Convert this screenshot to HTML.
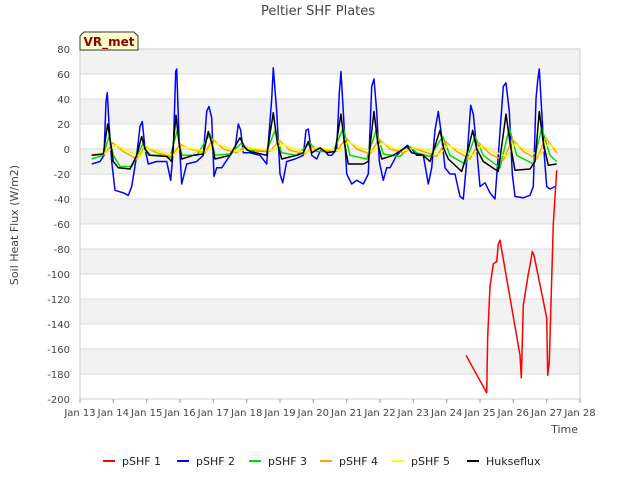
<!DOCTYPE html>
<html><head><meta charset="utf-8"><style>
body{margin:0;background:#fff;font-family:"Liberation Sans","DejaVu Sans",sans-serif;}
svg text{font-family:"DejaVu Sans","Liberation Sans",sans-serif;}
</style></head><body>
<svg id="chart" width="640" height="480" xmlns="http://www.w3.org/2000/svg">
<rect width="640" height="480" fill="#fff"/>
<g id="bands"></g><g id="grid"></g><g id="series"></g><g id="axes"></g>
<text x="318" y="15" text-anchor="middle" font-size="13" fill="#444">Peltier SHF Plates</text>
<text transform="translate(18,225) rotate(-90)" text-anchor="middle" font-size="11" fill="#444">Soil Heat Flux (W/m2)</text>
<text x="578" y="433" text-anchor="end" font-size="11" fill="#444">Time</text>
<g>
<path d="M80,36 L84,32 L134,32 L138,36 L138,50 L80,50 Z" fill="#ffffcc" stroke="#333" stroke-width="1"/>
<text x="109" y="46" text-anchor="middle" font-size="12" font-weight="bold" fill="#8b0000">VR_met</text>
</g>
<g id="legend"></g>
</svg>
<script>
const yTicks=[80,60,40,20,0,-20,-40,-60,-80,-100,-120,-140,-160,-180,-200];
const xTickLabels=["Jan 13","Jan 14","Jan 15","Jan 16","Jan 17","Jan 18","Jan 19","Jan 20","Jan 21","Jan 22","Jan 23","Jan 24","Jan 25","Jan 26","Jan 27","Jan 28"];
const xDays=[13,14,15,16,17,18,19,20,21,22,23,24,25,26,27,28];
const seriesNames=["pSHF 1","pSHF 2","pSHF 3","pSHF 4","pSHF 5","Hukseflux"];
const seriesColors=["#ff0000","#0000ff","#00dd00","#ffa500","#ffff00","#000000"];
const pshf1=[[24.58,-165],[25.2,-195],[25.23,-150],[25.3,-110],[25.4,-92],[25.5,-90],[25.55,-76],[25.6,-73],[26.2,-165],[26.24,-183],[26.3,-125],[26.45,-100],[26.52,-90],[26.57,-82],[26.62,-85],[27.0,-135],[27.03,-181],[27.08,-170],[27.2,-60],[27.3,-17]];
const pshf2=[[13.35,-12],[13.6,-10],[13.72,-5],[13.78,38],[13.82,45],[13.87,20],[13.95,-10],[14.05,-33],[14.3,-35],[14.45,-37],[14.55,-30],[14.7,-5],[14.8,18],[14.87,22],[14.95,0],[15.05,-12],[15.3,-10],[15.6,-10],[15.72,-25],[15.8,0],[15.87,62],[15.9,64],[15.97,10],[16.05,-28],[16.2,-12],[16.5,-10],[16.7,-5],[16.8,30],[16.87,34],[16.95,25],[17.02,-22],[17.1,-15],[17.25,-15],[17.5,-5],[17.65,0],[17.75,20],[17.82,15],[17.9,-3],[18.1,-3],[18.4,-5],[18.6,-12],[18.75,40],[18.8,65],[18.9,30],[19.0,-20],[19.08,-27],[19.2,-10],[19.45,-8],[19.7,-5],[19.78,15],[19.85,16],[19.95,-5],[20.1,-8],[20.2,-2],[20.3,0],[20.45,-5],[20.55,-5],[20.7,0],[20.78,45],[20.83,62],[20.9,30],[21.0,-20],[21.15,-28],[21.3,-25],[21.5,-28],[21.65,-20],[21.75,50],[21.82,56],[21.9,30],[21.98,-10],[22.1,-25],[22.2,-15],[22.3,-15],[22.5,-5],[22.7,0],[22.82,3],[22.95,0],[23.1,-5],[23.3,-5],[23.45,-28],[23.55,-15],[23.65,15],[23.75,30],[23.85,10],[23.95,-15],[24.1,-20],[24.25,-20],[24.4,-38],[24.5,-40],[24.6,-10],[24.72,35],[24.8,28],[24.9,0],[25.0,-30],[25.15,-27],[25.3,-35],[25.45,-40],[25.55,-5],[25.7,50],[25.78,53],[25.88,30],[25.97,-20],[26.05,-38],[26.3,-39],[26.5,-37],[26.6,-30],[26.68,40],[26.73,55],[26.78,64],[26.85,30],[26.93,-5],[27.0,-30],[27.1,-32],[27.25,-30]];
const pshf3=[[13.35,-8],[13.7,-5],[13.88,11],[14.0,-5],[14.2,-14],[14.55,-14],[14.9,5],[15.05,-5],[15.5,-5],[15.7,-7],[15.92,15],[16.05,-5],[16.5,-5],[16.9,12],[17.05,-5],[17.5,-4],[17.85,5],[18.0,-1],[18.6,-2],[18.85,15],[19.05,-3],[19.5,-5],[19.9,5],[20.1,-2],[20.6,-2],[20.9,17],[21.1,-5],[21.6,-8],[21.88,15],[22.1,-4],[22.6,-6],[22.9,2],[23.1,-3],[23.5,-6],[23.88,10],[24.1,-5],[24.55,-12],[24.85,10],[25.1,-5],[25.6,-15],[25.88,17],[26.1,-5],[26.6,-12],[26.85,17],[27.1,-5],[27.3,-10]];
const pshf4=[[13.35,-5],[13.75,-4],[13.98,5],[14.3,-2],[14.7,-8],[14.95,2],[15.3,-3],[15.75,-6],[16.0,4],[16.3,0],[16.75,-3],[16.98,8],[17.3,0],[17.7,-3],[17.95,2],[18.3,-1],[18.7,-2],[18.98,7],[19.3,-1],[19.75,-4],[20.0,2],[20.3,-1],[20.7,-2],[20.98,9],[21.3,0],[21.7,-4],[21.97,8],[22.3,0],[22.7,-3],[22.98,1],[23.3,-2],[23.7,-6],[23.97,6],[24.3,-2],[24.7,-8],[24.97,5],[25.3,-4],[25.7,-9],[25.97,8],[26.3,-2],[26.7,-8],[26.97,9],[27.3,-3]];
const pshf5=[[13.35,-4],[13.8,-3],[14.05,3],[14.4,-1],[14.8,-6],[15.05,1],[15.4,-2],[15.8,-5],[16.05,2],[16.4,0],[16.8,-2],[17.05,5],[17.4,1],[17.8,-2],[18.05,1],[18.4,0],[18.8,-1],[19.05,4],[19.4,0],[19.8,-3],[20.05,1],[20.4,0],[20.8,-1],[21.05,6],[21.4,1],[21.8,-2],[22.05,5],[22.4,1],[22.8,-1],[23.05,1],[23.4,-1],[23.8,-4],[24.05,3],[24.4,-1],[24.8,-5],[25.05,3],[25.4,-2],[25.8,-6],[26.05,4],[26.4,-1],[26.8,-5],[27.05,4],[27.3,0]];
const huks=[[13.35,-5],[13.7,-4],[13.8,15],[13.83,20],[13.9,8],[14.0,-10],[14.15,-15],[14.5,-16],[14.7,-5],[14.85,10],[14.95,0],[15.1,-5],[15.6,-6],[15.75,-10],[15.88,27],[15.97,5],[16.05,-8],[16.4,-5],[16.7,-4],[16.85,14],[16.95,5],[17.05,-8],[17.5,-5],[17.8,9],[17.95,1],[18.1,-2],[18.6,-5],[18.8,29],[18.92,5],[19.05,-8],[19.5,-5],[19.7,-3],[19.85,6],[19.95,-3],[20.2,1],[20.4,-3],[20.65,-2],[20.83,28],[20.93,5],[21.05,-12],[21.5,-12],[21.65,-10],[21.82,30],[21.93,5],[22.05,-8],[22.4,-5],[22.7,0],[22.82,2],[22.95,-3],[23.3,-5],[23.5,-10],[23.8,15],[23.92,0],[24.05,-8],[24.45,-18],[24.65,0],[24.78,15],[24.9,0],[25.1,-10],[25.55,-18],[25.78,28],[25.9,5],[26.05,-17],[26.5,-16],[26.65,-10],[26.78,30],[26.9,5],[27.05,-13],[27.3,-12]];
const allSeries=[pshf1,pshf2,pshf3,pshf4,pshf5,huks];
const drawOrder=[1,2,3,4,5,0];
const X0=80,X1=580,Y0=49,Y1=399;
const xS=d=>X0+(d-13)/15*(X1-X0);
const yS=v=>Y0+(80-v)/280*(Y1-Y0);
const NS="http://www.w3.org/2000/svg";
function mk(tag,attrs,parent){const e=document.createElementNS(NS,tag);for(const k in attrs)e.setAttribute(k,attrs[k]);parent.appendChild(e);return e;}
const bands=document.getElementById('bands'),grid=document.getElementById('grid'),axes=document.getElementById('axes'),ser=document.getElementById('series'),leg=document.getElementById('legend');
for(let i=0;i<yTicks.length-1;i++){
  if(i%2===0){const r=mk('rect',{x:X0,y:yS(yTicks[i]),width:X1-X0,height:yS(yTicks[i+1])-yS(yTicks[i]),fill:'#f2f2f2'},bands);
  
  }
}
yTicks.forEach(v=>{
  const l=mk('line',{x1:X0,x2:X1,y1:yS(v),y2:yS(v),stroke:'#dcdcdc','stroke-width':1},grid);
  
  
  const t=mk('text',{x:X0-10,y:yS(v)+4,'text-anchor':'end','font-size':10,fill:'#444'},axes);
  t.textContent=v;
  
  
});
const fr=mk('rect',{x:X0,y:Y0,width:X1-X0,height:Y1-Y0,fill:'none',stroke:'#ccc'},axes);


xDays.forEach((d,i)=>{
  mk('line',{x1:xS(d),x2:xS(d),y1:Y1,y2:Y1+4,stroke:'#999'},axes);
  const t=mk('text',{x:xS(d),y:Y1+17,'text-anchor':'middle','font-size':10,fill:'#444'},axes);
  t.textContent=xTickLabels[i];
  
  
});
drawOrder.forEach(i=>{
  const p=mk('polyline',{points:allSeries[i].map(q=>xS(q[0]).toFixed(1)+','+yS(q[1]).toFixed(1)).join(' '),fill:'none',stroke:seriesColors[i],'stroke-width':1.5,'stroke-linejoin':'round'},ser);
  
  
});
const legX=[103,177,249,320,392,467];
seriesNames.forEach((n,i)=>{
  const g=mk('g',{},leg);
  
  
  mk('line',{x1:legX[i],x2:legX[i]+12,y1:461,y2:461,stroke:seriesColors[i],'stroke-width':2},g);
  const t=mk('text',{x:legX[i]+19,y:465,'font-size':11,fill:'#222'},g);
  t.textContent=n;
});
</script>
</body></html>
